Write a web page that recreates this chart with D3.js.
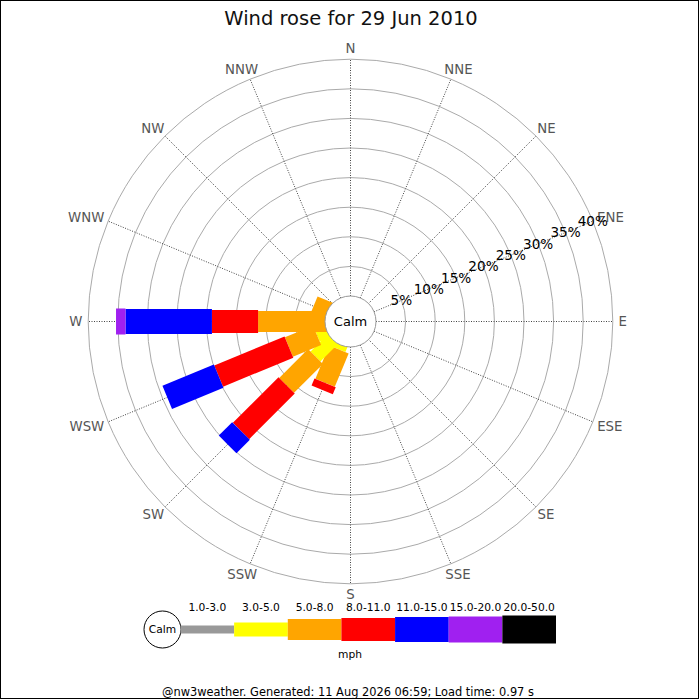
<!DOCTYPE html>
<html>
<head>
<meta charset="utf-8">
<script src="https://cdn.jsdelivr.net/npm/d3@7"></script>
<style>
  body { margin: 0; background: #fff; }
  svg { display: block; font-family: "DejaVu Sans", sans-serif; }
</style>
</head>
<body>
<div id="rose"></div>
<script>
// compass points, clockwise from north
var directions = ["N", "NNE", "NE", "ENE", "E", "ESE", "SE", "SSE",
                  "S", "SSW", "SW", "WSW", "W", "WNW", "NW", "NNW"];

var speedBins = ["1.0-3.0", "3.0-5.0", "5.0-8.0", "8.0-11.0", "11.0-15.0", "15.0-20.0", "20.0-50.0"];
var binColors = ["#999999", "#ffff00", "#ffa500", "#ff0000", "#0000ff", "#a020f0", "#000000"];

// % of time per direction for each speed bin (mph), order as directions above
var pct1to3   = [0,0,0,0,0,0,0,0,0,0,   0,    0,    0,    0,    0,0];
var pct3to5   = [0,0,0,0,0,0,0,0,0,0.8, 4.05, 1.8,  0,    0,    0,0];
var pct5to8   = [0,0,0,0,0,0,0,0,0,6.1, 6.9,  5.15, 11.3, 2.45, 0,0];
var pct8to11  = [0,0,0,0,0,0,0,0,0,1.3, 10.9, 12.85,7.8,  0,    0,0];
var pct11to15 = [0,0,0,0,0,0,0,0,0,0,   3.2,  9.4,  14.6, 0,    0,0];
var pct15to20 = [0,0,0,0,0,0,0,0,0,0,   0,    0,    1.6,  0,    0,0];
var pct20to50 = [0,0,0,0,0,0,0,0,0,0,   0,    0,    0,    0,    0,0];

var rangeTicks = [5, 10, 15, 20, 25, 30, 35, 40];

var series = [pct1to3, pct3to5, pct5to8, pct8to11, pct11to15, pct15to20, pct20to50];
var legWidths = [8, 14, 21, 23, 25, 26, 28];

var svgWidth = 700, svgHeight = 700;
var cx = 350.5, cy = 321.5;
var calmR = 25.5, outerR = 262.3;

var svg = d3.select("#rose")
  .append("svg")
  .attr("width", svgWidth)
  .attr("height", svgHeight);

svg.append("rect")
  .attr("x", 0.5).attr("y", 0.5)
  .attr("width", 698).attr("height", 698)
  .attr("fill", "#fff")
  .attr("stroke", "#000");

// title
svg.append("text")
  .attr("x", 351).attr("y", 25)
  .attr("text-anchor", "middle")
  .attr("font-size", 19.5)
  .attr("fill", "#111")
  .text("Wind rose for 29 Jun 2010");

var rScale = d3.scaleLinear().domain([0, 40]).range([calmR, outerR]);

var rose = svg.append("g")
  .attr("transform", `translate(${cx}, ${cy})`);

// range circles
rose.selectAll("circle.grid")
  .data(rangeTicks)
  .enter()
  .append("circle")
  .attr("class", "grid")
  .attr("r", d => rScale(d))
  .attr("fill", "none")
  .attr("stroke", "#aaaaaa")
  .attr("stroke-width", 1);

function bearingRad(i) { return i * 22.5 * Math.PI / 180; }

// direction spokes
rose.selectAll("line.spoke")
  .data(directions)
  .enter()
  .append("line")
  .attr("class", "spoke")
  .attr("x1", (d, i) => calmR * Math.sin(bearingRad(i)))
  .attr("y1", (d, i) => -calmR * Math.cos(bearingRad(i)))
  .attr("x2", (d, i) => outerR * Math.sin(bearingRad(i)))
  .attr("y2", (d, i) => -outerR * Math.cos(bearingRad(i)))
  .attr("stroke", "#444")
  .attr("stroke-width", 1)
  .attr("stroke-dasharray", "1,1.5");

// direction labels pushed outward by half their box
var labelR = 268;
rose.selectAll("text.dir")
  .data(directions)
  .enter()
  .append("text")
  .attr("class", "dir")
  .attr("font-size", 13.3)
  .attr("fill", "#555")
  .attr("text-anchor", "middle")
  .text(d => d)
  .each(function(d, i) {
    var w = this.getComputedTextLength();
    var s = Math.sin(bearingRad(i)), c = Math.cos(bearingRad(i));
    var px = labelR * s + s * w / 2;
    var py = -labelR * c - c * 5;
    d3.select(this).attr("x", px).attr("y", py + 4.9);
  });

// legs: one rotated group per direction, stacked speed segments
var legs = rose.selectAll("g.leg")
  .data(directions)
  .enter()
  .append("g")
  .attr("class", "leg")
  .attr("transform", (d, i) => `rotate(${i * 22.5 - 90})`);

legs.each(function(d, i) {
  var g = d3.select(this);
  var cum = 0;
  series.forEach(function(vals, b) {
    var v = vals[i];
    if (v > 0) {
      var x0 = cum === 0 ? 0 : rScale(cum);
      var x1 = rScale(cum + v);
      g.append("rect")
        .attr("x", x0)
        .attr("y", -legWidths[b] / 2)
        .attr("width", x1 - x0)
        .attr("height", legWidths[b])
        .attr("fill", binColors[b]);
      cum += v;
    }
  });
});

// calm circle
rose.append("circle")
  .attr("r", calmR)
  .attr("fill", "#fff")
  .attr("stroke", "#999");

rose.append("text")
  .attr("y", 4.7)
  .attr("text-anchor", "middle")
  .attr("font-size", 13)
  .attr("fill", "#000")
  .text("Calm");

// range labels along ENE
var ene = bearingRad(3);
rose.selectAll("text.range")
  .data(rangeTicks)
  .enter()
  .append("text")
  .attr("class", "range")
  .attr("x", d => rScale(d) * Math.sin(ene))
  .attr("y", d => -rScale(d) * Math.cos(ene) + 4.8)
  .attr("text-anchor", "middle")
  .attr("font-size", 13.6)
  .attr("fill", "#000")
  .text(d => d + "%");

// legend
var legendX = d3.scaleBand().domain(speedBins).range([180.5, 556]);
var legendY = 629.5;

svg.append("circle")
  .attr("cx", 162.5).attr("cy", legendY)
  .attr("r", 18.5)
  .attr("fill", "#fff")
  .attr("stroke", "#000");

svg.append("text")
  .attr("x", 162.5).attr("y", legendY + 3.8)
  .attr("text-anchor", "middle")
  .attr("font-size", 10.7)
  .text("Calm");

svg.selectAll("rect.key")
  .data(speedBins)
  .enter()
  .append("rect")
  .attr("class", "key")
  .attr("x", d => legendX(d))
  .attr("y", (d, i) => legendY - legWidths[i] / 2)
  .attr("width", legendX.bandwidth())
  .attr("height", (d, i) => legWidths[i])
  .attr("fill", (d, i) => binColors[i]);

svg.selectAll("text.key")
  .data(speedBins)
  .enter()
  .append("text")
  .attr("class", "key")
  .attr("x", d => legendX(d) + legendX.bandwidth() / 2)
  .attr("y", 610.7)
  .attr("text-anchor", "middle")
  .attr("font-size", 10.7)
  .text(d => d);

svg.append("text")
  .attr("x", 350).attr("y", 658)
  .attr("text-anchor", "middle")
  .attr("font-size", 10.7)
  .text("mph");

svg.append("text")
  .attr("x", 348).attr("y", 696)
  .attr("text-anchor", "middle")
  .attr("font-size", 11.4)
  .text("@nw3weather. Generated: 11 Aug 2026 06:59; Load time: 0.97 s");
</script>
</body>
</html>
